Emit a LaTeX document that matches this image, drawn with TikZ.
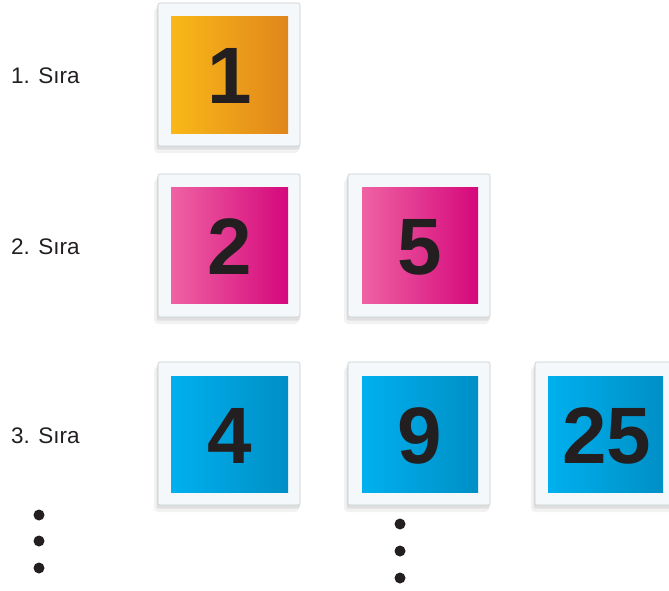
\documentclass[tikz,border=0pt]{standalone}
\usepackage{fontspec}
\setmainfont{Liberation Sans}
\definecolor{orL}{HTML}{FAB817}
\definecolor{orR}{HTML}{E0861C}
\definecolor{piL}{HTML}{EF62A3}
\definecolor{piR}{HTML}{D5087C}
\definecolor{blL}{HTML}{00B0EE}
\definecolor{blR}{HTML}{008FC6}
\definecolor{frame}{HTML}{F4F8FB}
\definecolor{framel}{HTML}{C5CBCF}
\definecolor{numc}{HTML}{231F20}
\begin{document}
\begin{tikzpicture}[x=1pt,y=-1pt,
  lbl/.style={anchor=west,font=\fontsize{22.5}{25}\selectfont,text=numc,inner sep=0},
  num/.style={font=\fontsize{80}{80}\selectfont\bfseries,text=numc,inner sep=0},
  dotc/.style={fill=numc,draw=none}]
\useasboundingbox (0,0) rectangle (669,590);
\tikzset{
  card/.pic={
    \fill[black,opacity=0.05,rounded corners=4] (-4,5) rectangle (141,150);
    \fill[black,opacity=0.08,rounded corners=2] (-1.5,2) rectangle (142,146.5);
    \fill[frame,draw=framel,line width=0.6,rounded corners=2] (0,0) rectangle (142,143);
  }
}
\pic at (158,3) {card};
\pic at (158,174) {card};
\pic at (348,174) {card};
\pic at (158,362) {card};
\pic at (348,362) {card};
\pic at (535,362) {card};
\shade[left color=orL,right color=orR] (171,16) rectangle (288,133);
\shade[left color=piL,right color=piR] (171,187) rectangle (288,303);
\shade[left color=piL,right color=piR] (362,187) rectangle (478,303);
\shade[left color=blL,right color=blR] (171,376) rectangle (288,492);
\shade[left color=blL,right color=blR] (362,376) rectangle (478,492);
\shade[left color=blL,right color=blR] (548,376) rectangle (663,492);
\node[num] (n1) at (230,76) {1};
\node[num] (n2) at (230,247) {2};
\node[num] (n5) at (420,247) {5};
\node[num] (n4) at (230,436) {4};
\node[num] (n9) at (420,436) {9};
\node[num] (n25) at (607,436) {25};
\node[lbl] (l1) at (11,76) {1. Sıra};
\node[lbl] (l2) at (11,247) {2. Sıra};
\node[lbl] (l3) at (11,436) {3. Sıra};
\foreach \yy in {515,541,568} \fill[dotc] (39,\yy) circle (5.5);
\foreach \yy in {524,551,578} \fill[dotc] (400,\yy) circle (5.5);
\end{tikzpicture}
\end{document}
